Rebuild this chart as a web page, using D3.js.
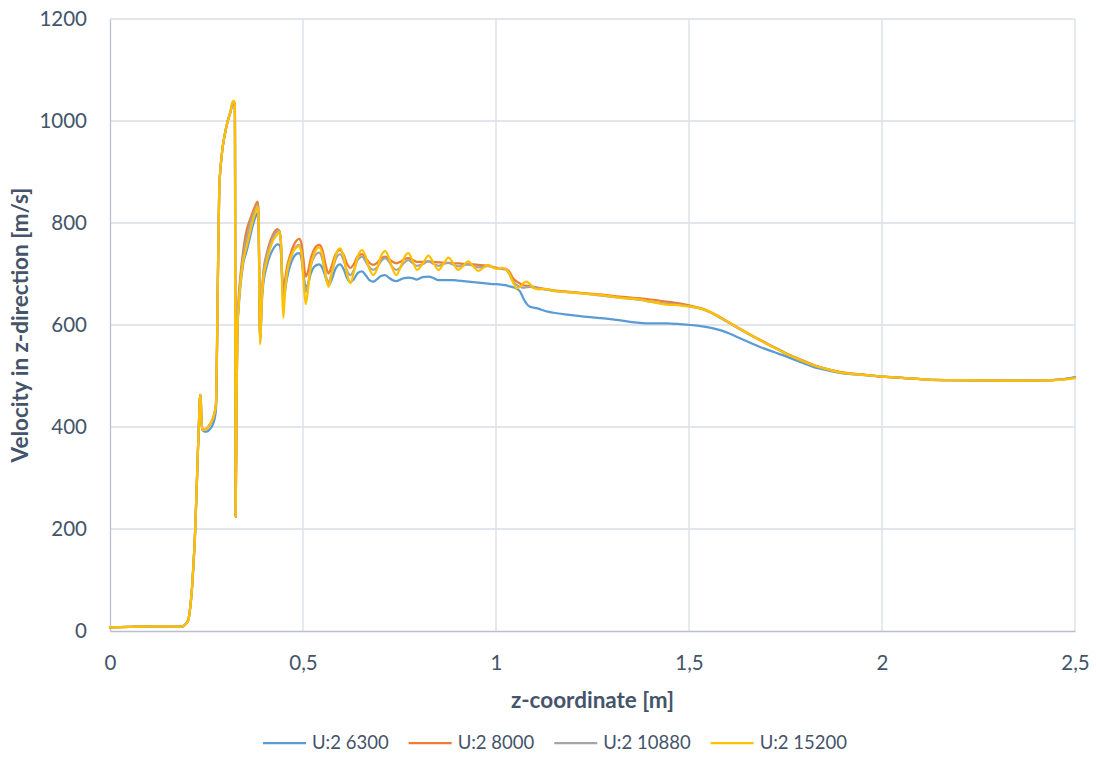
<!DOCTYPE html>
<html>
<head>
<meta charset="utf-8">
<script src="https://cdn.jsdelivr.net/npm/d3@7"></script>
<style>
  html, body { margin: 0; padding: 0; background: #ffffff; }
  svg { display: block; }
  text { font-family: Lato, "Open Sans", sans-serif; fill: #44546A; }
</style>
</head>
<body>
<svg id="chart" width="1096" height="758"></svg>
<script>
// Axial coordinate along the nozzle [m]
const zCoord = [
  0, 0.05, 0.1, 0.15, 0.185, 0.195, 0.203, 0.207, 0.213, 0.217, 0.22, 0.225, 0.229, 0.232, 0.2335, 0.235, 0.237, 0.24,
  0.245, 0.2505, 0.258, 0.264, 0.268, 0.272, 0.2746, 0.2765, 0.278, 0.28, 0.283, 0.289, 0.298, 0.305, 0.311, 0.318, 0.321,
  0.3235, 0.3256, 0.3275, 0.33,
  0.333, 0.337, 0.345, 0.354, 0.362, 0.37, 0.377, 0.382, 0.3845, 0.389, 0.393, 0.397, 0.406, 0.414, 0.422, 0.4335,
  0.439, 0.443, 0.446, 0.449, 0.453,
  0.458, 0.466, 0.475, 0.484, 0.49, 0.496, 0.501, 0.507, 0.513, 0.52, 0.53, 0.542, 0.55, 0.558, 0.566, 0.574, 0.584,
  0.596, 0.605, 0.614, 0.623, 0.632, 0.642, 0.653, 0.662, 0.672, 0.682, 0.692, 0.702, 0.713, 0.722, 0.732, 0.742,
  0.752, 0.762, 0.773, 0.783, 0.795, 0.81, 0.825, 0.838, 0.851, 0.864, 0.877, 0.89, 0.902, 0.915, 0.928, 0.941,
  0.954, 0.967, 0.98, 0.992, 1.002, 1.015, 1.025, 1.034,
  1.044, 1.054, 1.063, 1.071, 1.079, 1.088, 1.098, 1.11, 1.125, 1.149, 1.19, 1.235, 1.28, 1.313, 1.373, 1.4, 1.442,
  1.47, 1.503, 1.53, 1.554, 1.585, 1.615, 1.65, 1.684, 1.72, 1.753, 1.79, 1.822, 1.86, 1.891, 1.95, 2.0, 2.06, 2.116,
  2.18, 2.245, 2.33, 2.418, 2.46, 2.5
];

// Velocity in z-direction [m/s] for each mesh setting
const velocity6300 = [
  7, 8, 9, 9, 8.5, 13, 22, 41, 90, 140, 185, 290, 381, 440, 463, 458, 410, 394,
  391, 391, 395, 401, 408, 420, 436, 500, 600, 720, 865, 930, 976, 1000, 1015, 1032, 1035,
  1030, 224, 430, 590,
  630, 670, 720, 745, 770, 795, 812, 820, 805, 570, 640, 680, 715, 735, 748, 758,
  757, 740, 690, 655, 665,
  690, 715, 732, 740, 741, 730, 700, 675, 680, 700, 715, 719, 712, 695, 678, 688, 710,
  719, 710, 692, 684, 690, 702, 705, 698, 688, 685, 690, 696, 698, 693, 688, 686,
  689, 692, 693, 692, 689, 694, 695, 692, 688, 688, 688, 688, 687, 686, 685, 684,
  683, 682, 681, 680, 680, 679, 678, 676,
  674, 671, 665, 652, 642, 636, 634, 632, 628, 624, 620, 616, 613, 610, 604, 603, 603,
  602, 600, 598, 595, 589, 580, 568, 557, 547, 538, 527, 518, 511, 506, 502, 499, 496, 493,
  492, 491.5, 491, 491.5, 493, 498
];

const velocity8000 = [
  7, 8, 9, 9, 8.5, 13, 22, 41, 90, 140, 185, 290, 381, 440, 463, 458, 410, 394,
  395, 397, 404, 412, 420, 432, 446, 520, 600, 720, 865, 930, 976, 1000, 1015, 1036, 1038,
  1030, 224, 430, 590,
  650, 690, 745, 786, 805, 822, 835, 842, 830, 568, 655, 700, 740, 762, 777, 788,
  784, 760, 700, 665, 685,
  712, 735, 755, 766, 769, 760, 730, 695, 705, 730, 750, 757, 748, 720, 701, 715, 738,
  747, 738, 720, 712, 720, 735, 739, 732, 722, 718, 722, 730, 734, 730, 724, 721,
  724, 729, 731, 728, 724, 724, 725, 724, 723, 722, 722, 721, 721, 720, 719, 719,
  718, 717, 716, 714, 712, 711, 710, 705,
  692, 685, 681, 678, 677, 676, 675, 673, 671, 668, 665, 662, 659, 656, 652, 650, 646,
  643, 638, 633, 626, 614, 600, 585, 571, 557, 544, 532, 522, 513, 508, 503, 499, 496, 493,
  492, 491.5, 491, 491.5, 493, 497
];

const velocity10880 = [
  7, 8, 9, 9, 8.5, 13, 22, 41, 90, 140, 185, 290, 381, 440, 463, 458, 410, 394,
  395, 397, 404, 412, 420, 432, 446, 520, 600, 720, 865, 930, 976, 1000, 1015, 1036, 1038,
  1030, 224, 430, 590,
  640, 680, 735, 770, 795, 815, 828, 836, 822, 566, 650, 695, 735, 755, 772, 784,
  785, 760, 690, 640, 670,
  700, 725, 745, 755, 757, 745, 700, 665, 680, 715, 735, 742, 730, 700, 684, 700, 728,
  739, 728, 706, 698, 708, 728, 734, 725, 713, 708, 713, 725, 731, 725, 713, 708,
  713, 722, 727, 722, 716, 719, 725, 720, 716, 720, 722, 718, 715, 717, 719, 716,
  713, 714, 716, 713, 711, 710, 709, 700,
  686, 678, 675, 673, 674, 675, 674, 672, 670, 667, 664, 661, 657, 654, 649, 646, 642,
  640, 636, 632, 625, 612, 599, 584, 570, 556, 543, 531, 521, 513, 507, 502, 499, 496, 493,
  492, 491.5, 491, 491.5, 493, 497
];

const velocity15200 = [
  7, 8, 9, 9, 8.5, 13, 22, 41, 90, 140, 185, 290, 381, 440, 463, 458, 410, 394,
  395, 397, 404, 412, 420, 432, 446, 520, 600, 720, 865, 930, 976, 1000, 1015, 1038, 1040,
  1030, 224, 430, 590,
  635, 675, 725, 754, 780, 805, 822, 832, 818, 562, 645, 690, 725, 748, 765, 778,
  783, 760, 670, 614, 660,
  700, 728, 745, 753, 755, 740, 690, 641, 670, 715, 742, 752, 738, 700, 675, 700, 735,
  750, 735, 700, 682, 705, 735, 747, 735, 710, 698, 710, 735, 745, 733, 710, 698,
  712, 732, 741, 728, 708, 720, 736, 722, 708, 720, 732, 720, 708, 716, 725, 715,
  706, 712, 718, 713, 710, 712, 710, 702,
  684, 672, 675, 682, 685, 680, 672, 670, 671, 667, 664, 661, 658, 654, 650, 646, 640,
  639, 636, 632, 626, 613, 600, 585, 570, 556, 543, 531, 521, 513, 507, 502, 499, 496, 493,
  492, 491.5, 491, 491.5, 492.5, 496
];

const seriesNames = ["U:2 6300", "U:2 8000", "U:2 10880", "U:2 15200"];
const seriesColors = ["#5B9BD5", "#ED7D31", "#A5A5A5", "#FFC000"];
const xTicks = [0, 0.5, 1, 1.5, 2, 2.5];
const xTickLabels = ["0", "0,5", "1", "1,5", "2", "2,5"];
const yTicks = [0, 200, 400, 600, 800, 1000, 1200];
const xTitle = "z-coordinate [m]";
const yTitle = "Velocity in z-direction [m/s]";

const allSeries = [velocity6300, velocity8000, velocity10880, velocity15200];

// Layout of the plotting area
const plot = { left: 110, right: 1075, top: 19, bottom: 631 };

const svg = d3.select("#chart");

const x = d3.scaleLinear().domain([0, 2.5]).range([plot.left, plot.right]);
const y = d3.scaleLinear().domain([0, 1200]).range([plot.bottom, plot.top]);

// Gridlines
const grid = svg.append("g").attr("class", "grid");
grid.selectAll("line.h").data(yTicks.filter(d => d > 0)).join("line")
  .attr("class", "h")
  .attr("x1", plot.left).attr("x2", plot.right)
  .attr("y1", d => y(d)).attr("y2", d => y(d))
  .attr("stroke", "#D9DEE6").attr("stroke-width", 1.3);
grid.selectAll("line.v").data(xTicks.filter(d => d > 0)).join("line")
  .attr("class", "v")
  .attr("y1", plot.top).attr("y2", plot.bottom)
  .attr("x1", d => x(d)).attr("x2", d => x(d))
  .attr("stroke", "#D9DEE6").attr("stroke-width", 1.3);

// Axes (no tick marks, labels only)
const xAxis = d3.axisBottom(x).tickValues(xTicks)
  .tickFormat((d, i) => xTickLabels[i]).tickSize(0).tickPadding(22);
const yAxis = d3.axisLeft(y).tickValues(yTicks)
  .tickFormat(d3.format("d")).tickSize(0).tickPadding(23);

const gx = svg.append("g").attr("transform", `translate(0,${plot.bottom})`).call(xAxis);
const gy = svg.append("g").attr("transform", `translate(${plot.left},0)`).call(yAxis);

[gx, gy].forEach(g => {
  g.select(".domain").attr("stroke", "#B8C0CE").attr("stroke-width", 1.3);
  g.selectAll("text").attr("font-family", "Lato, sans-serif").attr("font-size", 20.5)
    .attr("fill", "#44546A");
});
gx.selectAll("text").attr("dy", "0.35em").attr("y", 32);

// Series lines
const line = d3.line()
  .x((d, i) => x(zCoord[i]))
  .y(d => y(d))
  .curve(d3.curveMonotoneX);

svg.append("g").attr("class", "series")
  .selectAll("path").data(allSeries).join("path")
  .attr("d", d => line(d))
  .attr("fill", "none")
  .attr("stroke", (d, i) => seriesColors[i])
  .attr("stroke-width", 2.25)
  .attr("stroke-linejoin", "round")
  .attr("stroke-linecap", "round");

// Axis titles
svg.append("text")
  .attr("x", (plot.left + plot.right) / 2).attr("y", 708)
  .attr("text-anchor", "middle")
  .attr("font-size", 22.5).attr("font-weight", "bold")
  .text(xTitle);

svg.append("text")
  .attr("transform", `translate(28,${(plot.top + plot.bottom) / 2}) rotate(-90)`)
  .attr("text-anchor", "middle")
  .attr("font-size", 22.5).attr("font-weight", "bold")
  .text(yTitle);

// Legend, centred under the plot
const legend = svg.append("g").attr("class", "legend");
const items = legend.selectAll("g").data(seriesNames).join("g");
items.append("line")
  .attr("x1", 0).attr("x2", 43).attr("y1", 0).attr("y2", 0)
  .attr("stroke", (d, i) => seriesColors[i]).attr("stroke-width", 2.25);
items.append("text")
  .attr("x", 49).attr("dy", "0.35em")
  .attr("font-size", 18.5)
  .text(d => d);

const widths = [];
items.each(function () {
  widths.push(49 + this.querySelector("text").getComputedTextLength());
});
const gap = 20;
const total = d3.sum(widths) + gap * (widths.length - 1);
let cursor = 555 - total / 2;
items.attr("transform", (d, i) => {
  const t = `translate(${cursor},743)`;
  cursor += widths[i] + gap;
  return t;
});
</script>
</body>
</html>
